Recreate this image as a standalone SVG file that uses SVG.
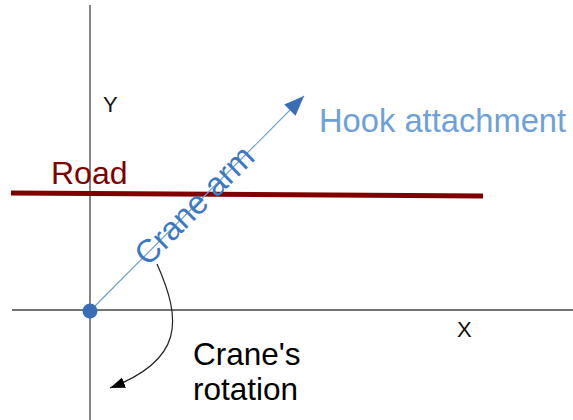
<svg xmlns="http://www.w3.org/2000/svg" width="573" height="420" viewBox="0 0 573 420">
<defs>
<style>
.axis{stroke:#444;stroke-width:1.3;fill:none}
.lbl{font-family:"Liberation Sans",Arial,sans-serif}
</style>
<marker id="blueHead" markerUnits="userSpaceOnUse" markerWidth="24" markerHeight="18" refX="20" refY="8" orient="auto">
<path d="M0,0 L20,8 L0,16 Z" fill="#3a6cb8"/>
</marker>
<marker id="blackHead" markerUnits="userSpaceOnUse" markerWidth="18" markerHeight="14" refX="15" refY="5.5" orient="auto">
<path d="M0,0 L15,5.5 L0,11 Z" fill="#000"/>
</marker>
</defs>
<rect width="573" height="420" fill="#fff"/>
<g id="axes">
<line class="axis" x1="90" y1="5" x2="90" y2="420"/>
<line class="axis" x1="12" y1="310" x2="573" y2="310"/>
<text class="lbl" x="103" y="112" font-size="22" fill="#111">Y</text>
<text class="lbl" x="457" y="337" font-size="22" fill="#111">X</text>
</g>
<g id="road">
<line x1="11" y1="193" x2="483" y2="196" stroke="#800000" stroke-width="5"/>
<text class="lbl" x="51" y="184" font-size="32" fill="#800000">Road</text>
</g>
<g id="connectors">
<line x1="90" y1="311" x2="304" y2="96" stroke="#6d9fd6" stroke-width="1.2" marker-end="url(#blueHead)"/>
<path d="M157,264 C182,320 184,360 110,388" fill="none" stroke="#222" stroke-width="1.2" marker-end="url(#blackHead)"/>
</g>
<g id="origin">
<circle cx="90" cy="311" r="7.5" fill="#3a6cb8"/>
</g>
<g id="crane-arm">
<text class="lbl" transform="translate(195,206) rotate(-45)" x="0" y="10" text-anchor="middle" font-size="32.5" fill="#3d78c2">Crane arm</text>
</g>
<g id="hook">
<text class="lbl" x="319" y="132" font-size="32.7" fill="#6fa1d8">Hook attachment</text>
</g>
<g id="rotation">
<text class="lbl" x="193" y="365" font-size="31.5" fill="#000">Crane's</text>
<text class="lbl" x="193" y="400" font-size="31.5" fill="#000">rotation</text>
</g>
</svg>
